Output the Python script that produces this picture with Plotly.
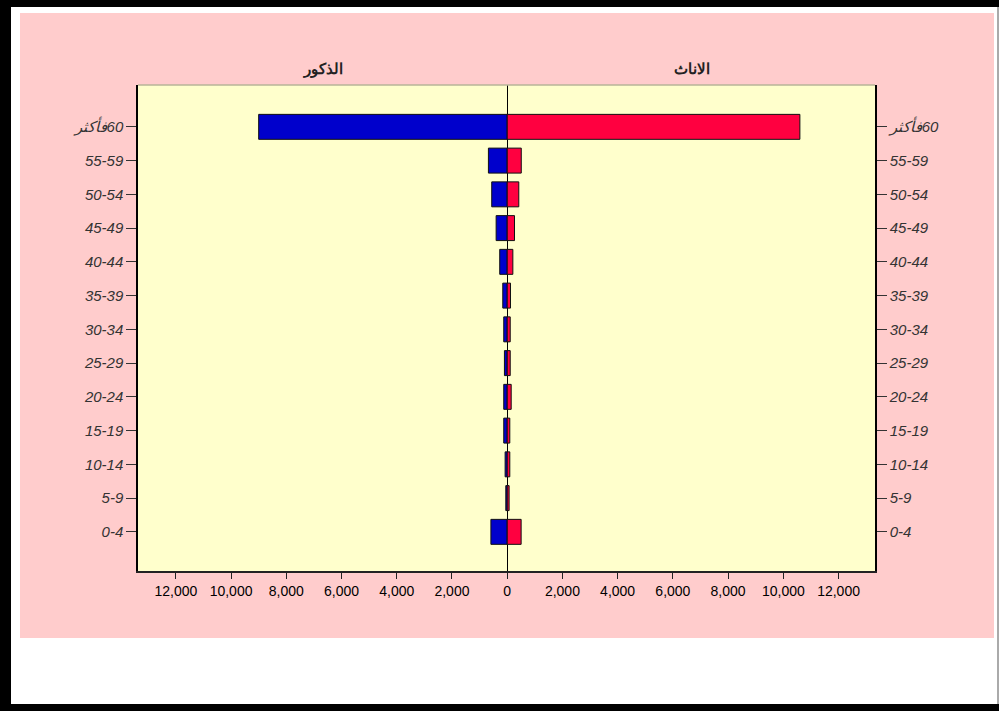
import plotly.graph_objects as go

age_groups = ["0-4", "5-9", "10-14", "15-19", "20-24", "25-29", "30-34",
              "35-39", "40-44", "45-49", "50-54", "55-59", "60فأكثر"]
age_labels = ["0-4", "5-9", "10-14", "15-19", "20-24", "25-29", "30-34",
              "35-39", "40-44", "45-49", "50-54", "55-59", "\u200f60فأكثر"]
males = [590, 50, 75, 125, 125, 100, 125, 160, 270, 400, 560, 680, 9000]
females = [505, 70, 95, 95, 145, 110, 110, 120, 205, 265, 420, 510, 10600]
x_ticks = [-12000, -10000, -8000, -6000, -4000, -2000, 0,
           2000, 4000, 6000, 8000, 10000, 12000]
x_tick_text = ["12,000", "10,000", "8,000", "6,000", "4,000", "2,000", "0",
               "2,000", "4,000", "6,000", "8,000", "10,000", "12,000"]
title_male = "الذكور"
title_female = "الاناث"

W, H = 999, 711
L, R, T, B = 138, 875, 85, 571
pw, ph = R - L, B - T

def px(x):
    return (x - L) / pw

def py(y):
    return (B - y) / ph

fig = go.Figure()
fig.add_trace(go.Bar(
    y=age_groups, x=[-v for v in males], orientation="h",
    marker=dict(color="#0000CC", line=dict(color="#111111", width=1)),
    name=title_male, hoverinfo="skip"))
fig.add_trace(go.Bar(
    y=age_groups, x=females, orientation="h",
    marker=dict(color="#FF0040", line=dict(color="#111111", width=1)),
    name=title_female, hoverinfo="skip"))
fig.add_trace(go.Scatter(
    y=age_groups, x=[0] * len(age_groups), yaxis="y2", mode="markers",
    marker=dict(opacity=0, size=1), hoverinfo="skip", showlegend=False))

yr = [-1.16, 13.24]
tickfont_y = dict(family="Liberation Sans, Arial", size=15, color="#333333", style="italic")

shapes = [
    dict(type="rect", xref="paper", yref="paper", layer="below",
         x0=px(11), x1=px(997), y0=py(704), y1=py(7),
         fillcolor="white", line=dict(width=0)),
    dict(type="rect", xref="paper", yref="paper", layer="below",
         x0=px(997), x1=px(999), y0=py(704), y1=py(7),
         fillcolor="#AAAAAA", line=dict(width=0)),
    dict(type="rect", xref="paper", yref="paper", layer="below",
         x0=px(20), x1=px(994), y0=py(638), y1=py(13),
         fillcolor="#FFCCCC", line=dict(width=0)),
    dict(type="rect", xref="paper", yref="paper", layer="below",
         x0=0, x1=1, y0=0, y1=1,
         fillcolor="#FFFFCC", line=dict(width=0)),
    dict(type="line", xref="paper", yref="paper", layer="above",
         x0=0, x1=1, y0=1, y1=1, line=dict(color="#B8B498", width=1.5)),
]

fig.update_layout(
    width=W, height=H,
    margin=dict(l=L, r=W - R, t=T, b=H - B),
    paper_bgcolor="black", plot_bgcolor="#FFFFCC",
    barmode="relative", bargap=0.26,
    showlegend=False,
    xaxis=dict(range=[-13370, 13320], tickvals=x_ticks, ticktext=x_tick_text,
               showgrid=False, zeroline=True, zerolinecolor="black", zerolinewidth=1.2,
               showline=True, linecolor="#222222", linewidth=1.5,
               ticks="outside", ticklen=6, tickcolor="#222222",
               tickfont=dict(family="Liberation Sans, Arial", size=14, color="black"),
               fixedrange=True),
    yaxis=dict(type="category", categoryorder="array", categoryarray=age_groups,
               tickvals=age_groups, ticktext=age_labels,
               range=yr, showgrid=False, zeroline=False,
               showline=True, linecolor="black", linewidth=1.5,
               ticks="outside", ticklen=10, tickcolor="#333333",
               tickfont=tickfont_y),
    yaxis2=dict(type="category", categoryorder="array", categoryarray=age_groups,
                tickvals=age_groups, ticktext=age_labels,
                overlaying="y", side="right", range=yr, showgrid=False,
                zeroline=False, showline=True, linecolor="black", linewidth=1.5,
                ticks="outside", ticklen=10, tickcolor="#333333",
                tickfont=tickfont_y),
    shapes=shapes,
    annotations=[
        dict(text="<b>" + title_male + "</b>", xref="paper", yref="paper",
             x=px(323), y=py(69), yanchor="middle", xanchor="center", showarrow=False,
             font=dict(family="Liberation Sans, Arial", size=15, color="#222222")),
        dict(text="<b>" + title_female + "</b>", xref="paper", yref="paper",
             x=px(692), y=py(69), yanchor="middle", xanchor="center", showarrow=False,
             font=dict(family="Liberation Sans, Arial", size=15, color="#222222")),
    ],
)

fig.write_html("out.html",
               config={"displayModeBar": False},
               post_script="document.body.style.margin='0';document.body.style.padding='0';")
